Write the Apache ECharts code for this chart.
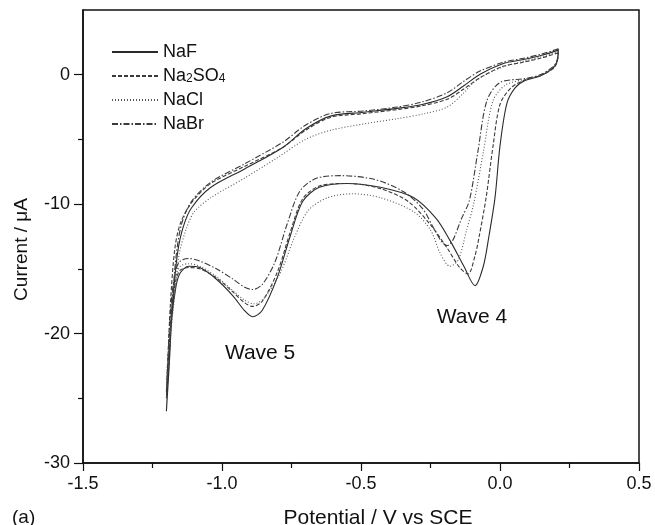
<!DOCTYPE html>
<html>
<head>
<meta charset="utf-8">
<script src="https://cdn.jsdelivr.net/npm/echarts@6/dist/echarts.min.js"></script>
<style>
  html, body { margin: 0; padding: 0; background: #fff; }
  #chart { width: 655px; height: 525px; }
</style>
</head>
<body>
<div id="chart"></div>
<script>
// cyclic voltammograms, [potential V, current uA], loop from the positive end
var nafCurve = [
  [0.21, 1.9], [0.15, 1.5], [0.08, 1.15], [0.01, 0.85], [-0.07, 0.05], [-0.13, -0.85],
  [-0.19, -1.7], [-0.28, -2.3], [-0.37, -2.6], [-0.49, -2.9], [-0.61, -3.2], [-0.70, -4.2],
  [-0.78, -5.6], [-0.92, -7.3], [-1.04, -8.7], [-1.11, -10.3], [-1.14, -11.8], [-1.16, -13.8],
  [-1.175, -17], [-1.19, -22], [-1.20, -26.0],
  [-1.19, -22.5], [-1.18, -18.7], [-1.165, -16.3], [-1.15, -15.3], [-1.12, -14.8], [-1.08, -14.9],
  [-1.02, -15.8], [-0.96, -17.1], [-0.92, -18.2], [-0.89, -18.7], [-0.855, -18.2], [-0.80, -15.6],
  [-0.755, -12.5], [-0.71, -9.8], [-0.65, -8.7], [-0.55, -8.4], [-0.43, -8.7], [-0.31, -9.5],
  [-0.23, -11.1], [-0.18, -12.8], [-0.13, -14.8], [-0.09, -16.3], [-0.06, -14.8], [-0.04, -12.5],
  [-0.018, -9.5], [0.0, -5.5], [0.025, -2.2], [0.055, -1.0], [0.09, -0.45], [0.145, -0.1],
  [0.19, 0.5], [0.205, 1.0], [0.21, 1.9]
];
var na2so4Curve = [
  [0.21, 1.7], [0.15, 1.3], [0.08, 0.95], [0.01, 0.65], [-0.07, -0.2], [-0.13, -1.1],
  [-0.19, -1.9], [-0.28, -2.4], [-0.37, -2.7], [-0.49, -3.0], [-0.61, -3.3], [-0.70, -4.3],
  [-0.78, -5.6], [-0.92, -7.1], [-1.04, -8.4], [-1.11, -9.9], [-1.15, -11.5], [-1.17, -13.5],
  [-1.185, -17.5], [-1.195, -22], [-1.20, -24.5],
  [-1.19, -21], [-1.18, -18], [-1.165, -15.8], [-1.15, -15.1], [-1.12, -14.9], [-1.08, -15.0],
  [-1.02, -15.7], [-0.96, -16.8], [-0.92, -17.6], [-0.89, -17.9], [-0.855, -17.5], [-0.80, -15.2],
  [-0.755, -12.2], [-0.71, -9.6], [-0.65, -8.6], [-0.55, -8.4], [-0.43, -8.8], [-0.33, -9.8],
  [-0.25, -11.6], [-0.19, -13.4], [-0.145, -14.9], [-0.115, -15.4], [-0.09, -14.0], [-0.075, -12.5],
  [-0.05, -9.5], [-0.025, -5.5], [0.0, -2.3], [0.04, -1.0], [0.09, -0.4], [0.145, -0.05],
  [0.19, 0.45], [0.205, 0.95], [0.21, 1.7]
];
var naclCurve = [
  [0.21, 1.8], [0.15, 1.4], [0.08, 1.0], [0.01, 0.6], [-0.06, -0.1], [-0.10, -0.7],
  [-0.13, -1.4], [-0.19, -2.5], [-0.27, -3.0], [-0.37, -3.4], [-0.49, -3.8], [-0.61, -4.3],
  [-0.70, -5.0], [-0.80, -6.4], [-0.92, -8.0], [-1.04, -9.5], [-1.10, -10.6], [-1.13, -12],
  [-1.155, -14], [-1.175, -18], [-1.19, -21], [-1.20, -23.5],
  [-1.19, -20.5], [-1.18, -17.5], [-1.165, -15.5], [-1.15, -14.8], [-1.12, -14.6], [-1.08, -14.8],
  [-1.02, -15.6], [-0.96, -16.7], [-0.92, -17.4], [-0.885, -17.7], [-0.85, -17.3], [-0.79, -15.3],
  [-0.74, -12.6], [-0.69, -10.5], [-0.62, -9.5], [-0.53, -9.2], [-0.43, -9.5], [-0.31, -10.6],
  [-0.25, -12.0], [-0.215, -13.8], [-0.18, -14.8], [-0.15, -14.3], [-0.12, -12.0], [-0.095, -10.0],
  [-0.06, -6.0], [-0.025, -2.0], [0.02, -0.8], [0.09, -0.35], [0.145, -0.05], [0.19, 0.55],
  [0.205, 1.0], [0.21, 1.8]
];
var nabrCurve = [
  [0.21, 2.0], [0.15, 1.6], [0.08, 1.25], [0.01, 0.95], [-0.07, 0.3], [-0.13, -0.5],
  [-0.19, -1.4], [-0.28, -2.1], [-0.37, -2.5], [-0.49, -2.8], [-0.61, -3.0], [-0.70, -3.9],
  [-0.78, -5.2], [-0.92, -6.9], [-1.04, -8.3], [-1.11, -9.8], [-1.145, -11.5], [-1.165, -14],
  [-1.18, -18], [-1.19, -22], [-1.20, -25],
  [-1.19, -20], [-1.18, -17], [-1.165, -15], [-1.15, -14.4], [-1.12, -14.2], [-1.08, -14.4],
  [-1.02, -15.0], [-0.96, -15.8], [-0.92, -16.4], [-0.89, -16.6], [-0.855, -16.2], [-0.81, -14.5],
  [-0.765, -11.5], [-0.72, -9.0], [-0.66, -8.0], [-0.57, -7.8], [-0.45, -8.1], [-0.35, -9.0],
  [-0.28, -10.3], [-0.24, -11.8], [-0.21, -12.9], [-0.19, -13.2], [-0.17, -12.8], [-0.14, -11.2],
  [-0.11, -9.7], [-0.08, -6.0], [-0.047, -2.0], [0.0, -0.6], [0.09, -0.3], [0.145, 0.0],
  [0.19, 0.6], [0.205, 1.1], [0.21, 2.0]
];

var seriesNames = ['NaF', 'Na2SO4', 'NaCl', 'NaBr'];
var xTicks = [-1.5, -1.0, -0.5, 0.0, 0.5];
var yMajorTicks = [-30, -20, -10, 0];
var yMinorTicks = [-25, -15, -5];
var waveNotes = [
  { text: 'Wave 5', at: [-0.863, -21.5] },
  { text: 'Wave 4', at: [-0.101, -18.7] }
];

var FONT = '"Liberation Sans", Arial, sans-serif';
var chart = echarts.init(document.getElementById('chart'));

function curveSeries(name, data, color, dash) {
  return {
    name: name,
    type: 'line',
    data: data,
    showSymbol: false,
    symbol: 'none',
    smooth: 0.3,
    xAxisIndex: 0,
    yAxisIndex: 0,
    lineStyle: { color: color, width: 1.1, type: dash },
    itemStyle: { color: color },
    emphasis: { disabled: true },
    animation: false,
    z: 3
  };
}

var option = {
  backgroundColor: '#fff',
  animation: false,
  textStyle: { fontFamily: FONT },
  grid: {
    left: 83, right: 16, top: 10, bottom: 62,
    containLabel: false, outerBoundsMode: 'none',
    show: true, borderColor: '#111', borderWidth: 1.5, backgroundColor: 'transparent'
  },
  legend: {
    orient: 'vertical',
    left: 111, top: 43, padding: 0,
    itemWidth: 46, itemHeight: 14, itemGap: 6,
    data: seriesNames,
    itemStyle: { color: 'transparent', borderWidth: 0, opacity: 0 },
    formatter: function (name) {
      return name === 'Na2SO4' ? 'Na{s|2}SO{s|4}' : name;
    },
    textStyle: {
      fontFamily: FONT, fontSize: 18, color: '#111',
      rich: { s: { fontFamily: FONT, fontSize: 12, color: '#111', verticalAlign: 'bottom', padding: [6, 0, 0, 0] } }
    }
  },
  xAxis: {
    type: 'value',
    min: xTicks[0], max: xTicks[xTicks.length - 1], interval: 0.5,
    name: 'Potential / V vs SCE',
    nameLocation: 'middle', nameGap: 45,
    nameTextStyle: { fontFamily: FONT, fontSize: 21, color: '#111', padding: [0, 0, 0, 34] },
    axisLine: { show: true, onZero: false, lineStyle: { color: '#111', width: 1.5 } },
    axisTick: { show: true, inside: false, length: 8, lineStyle: { color: '#111', width: 1.2 } },
    minorTick: { show: true, splitNumber: 2, length: 5, lineStyle: { color: '#111', width: 1.2 } },
    splitLine: { show: false },
    axisLabel: {
      fontFamily: FONT, fontSize: 18, color: '#111', margin: 12,
      formatter: function (v) { return v.toFixed(1); }
    }
  },
  yAxis: [{
    type: 'value',
    min: -30, max: 5, interval: 10,
    position: 'left',
    name: 'Current / \u03bcA',
    nameLocation: 'middle', nameGap: 52,
    nameTextStyle: { fontFamily: FONT, fontSize: 19, color: '#111', padding: [0, 26, 0, 0] },
    axisLine: { show: true, onZero: false, lineStyle: { color: '#111', width: 1.5 } },
    axisTick: { show: true, inside: false, length: 9, customValues: yMajorTicks, lineStyle: { color: '#111', width: 1.2 } },
    splitLine: { show: false },
    axisLabel: { fontFamily: FONT, fontSize: 18, color: '#111', margin: 13, customValues: yMajorTicks }
  }, {
    type: 'value',
    min: -30, max: 5,
    position: 'left', offset: 0,
    axisLine: { show: false, onZero: false },
    axisTick: { show: true, inside: false, length: 5, customValues: yMinorTicks, lineStyle: { color: '#111', width: 1.2 } },
    axisLabel: { show: false },
    splitLine: { show: false }
  }],
  series: [
    curveSeries('NaF', nafCurve, '#2a2a2a', 'solid'),
    curveSeries('Na2SO4', na2so4Curve, '#3a3a3a', [4, 2]),
    curveSeries('NaCl', naclCurve, '#555', [1, 2]),
    curveSeries('NaBr', nabrCurve, '#3a3a3a', [6, 2, 1.5, 2])
  ]
};
chart.setOption(option);

// wave labels and panel letter
var notes = waveNotes.map(function (w) {
  var p = chart.convertToPixel({ xAxisIndex: 0, yAxisIndex: 0 }, w.at);
  return {
    type: 'text', x: p[0], y: p[1],
    style: { text: w.text, fill: '#111', font: '21px ' + FONT, textAlign: 'center', textVerticalAlign: 'middle' }
  };
});
notes.push({
  type: 'text', left: 12, top: 508,
  style: { text: '(a)', fill: '#111', font: '19px ' + FONT }
});
chart.setOption({ graphic: notes });
</script>
</body>
</html>
